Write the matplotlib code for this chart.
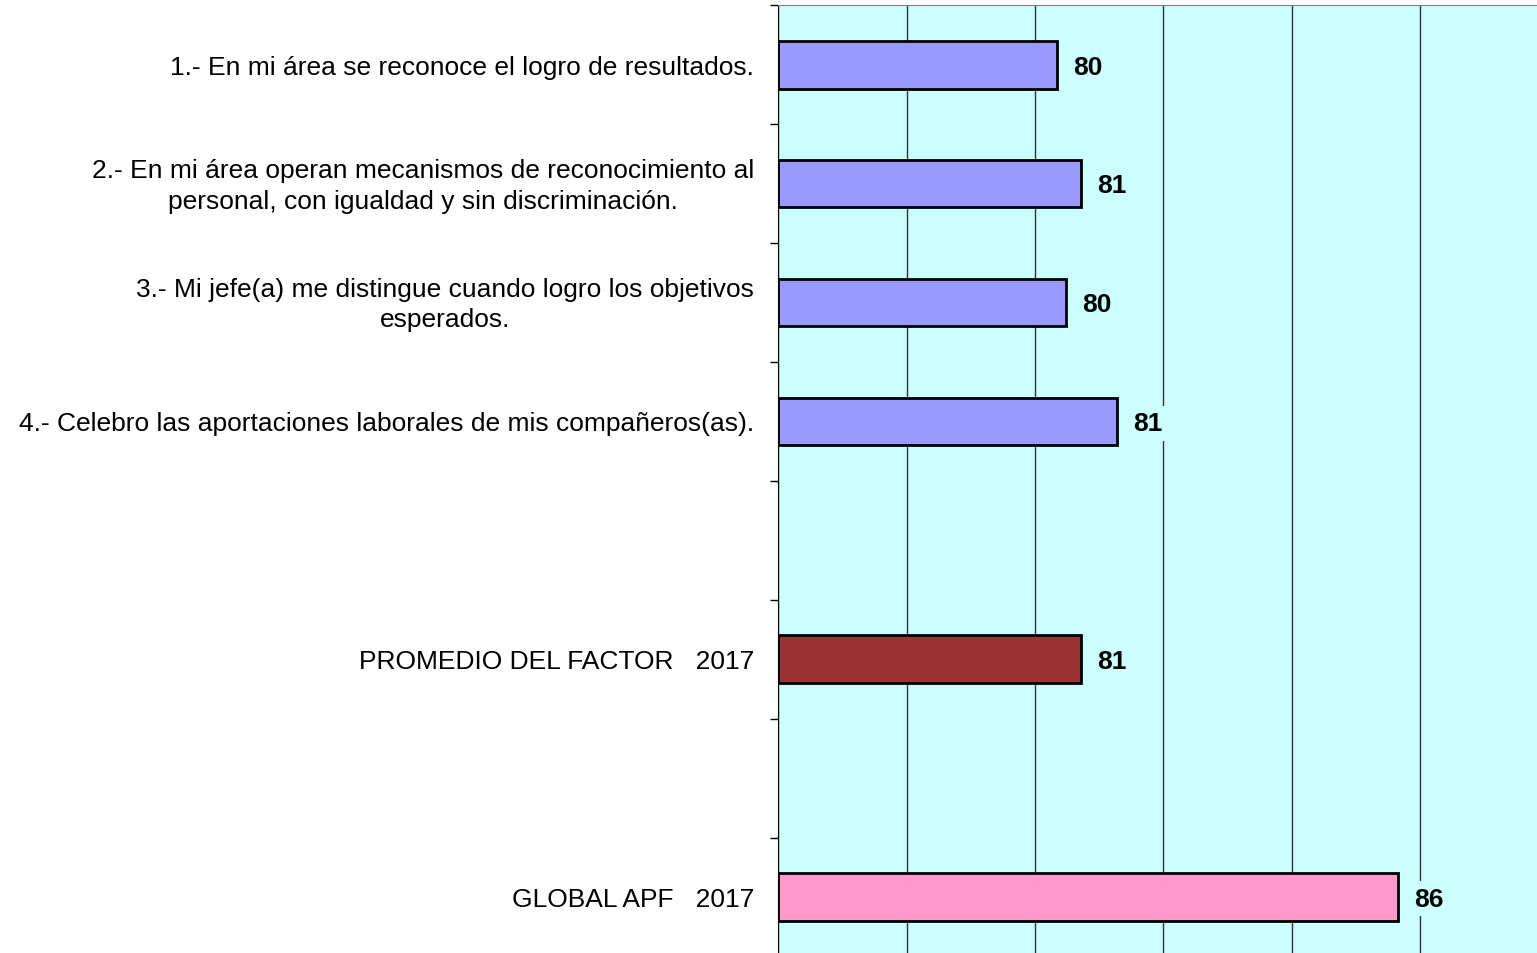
import matplotlib
matplotlib.use("Agg")
import matplotlib.pyplot as plt
import numpy as np

plt.rcParams['font.family'] = ['Liberation Sans', 'DejaVu Sans']

# categories top to bottom ('' = empty slot)
labels = [
    "1.- En mi área se reconoce el logro de resultados.",
    "2.- En mi área operan mecanismos de reconocimiento al\npersonal, con igualdad y sin discriminación.",
    "3.- Mi jefe(a) me distingue cuando logro los objetivos\nesperados.",
    "4.- Celebro las aportaciones laborales de mis compañeros(as).",
    "",
    "PROMEDIO DEL FACTOR   2017",
    "",
    "GLOBAL APF   2017",
]
values = [80.35, 80.72, 80.49, 81.27, None, 80.71, None, 85.65]
colors = ["#9999FF", "#9999FF", "#9999FF", "#9999FF", None, "#993333", None, "#FF99CC"]

fig = plt.figure(figsize=(15.37, 9.54), dpi=100)
ax = fig.add_axes([778 / 1537, 1 - 957.4 / 954, 771 / 1537, 951 / 954])
ax.set_facecolor("#CCFFFF")

for i, (v, c) in enumerate(zip(values, colors)):
    if v is None:
        continue
    ax.barh(i, v - 76, left=76, height=0.4, color=c, edgecolor="black", linewidth=2, zorder=3)
    ax.text(v + 0.25, i + 0.015, f"{v:.0f}", va="center", ha="left", fontsize=19, fontweight="bold",
            zorder=4, bbox=dict(facecolor="#CCFFFF", edgecolor="none", pad=4))

ax.set_xlim(76, 88)
ax.set_xticks(np.arange(76, 89, 2))
ax.set_ylim(len(labels) - 0.5, -0.5)
ax.set_yticks(np.arange(len(labels) + 1) - 0.5)
ax.set_yticklabels([])
ax.tick_params(axis="y", direction="out", length=6, color="black", width=1)
ax.tick_params(axis="x", length=0, labelbottom=False)
ax.grid(axis="x", color="#333333", linewidth=1, zorder=1)
ax.set_axisbelow(True)

for i, lab in enumerate(labels):
    if lab:
        ax.text(-0.031, i + 0.015, lab, transform=ax.get_yaxis_transform(), ha="right", va="center",
                multialignment="center", fontsize=19, linespacing=1.32)

for s in ["right", "bottom"]:
    ax.spines[s].set_visible(False)
ax.spines["top"].set_color("#808080")
ax.spines["left"].set_color("black")

fig.savefig("out.png", dpi=100)
